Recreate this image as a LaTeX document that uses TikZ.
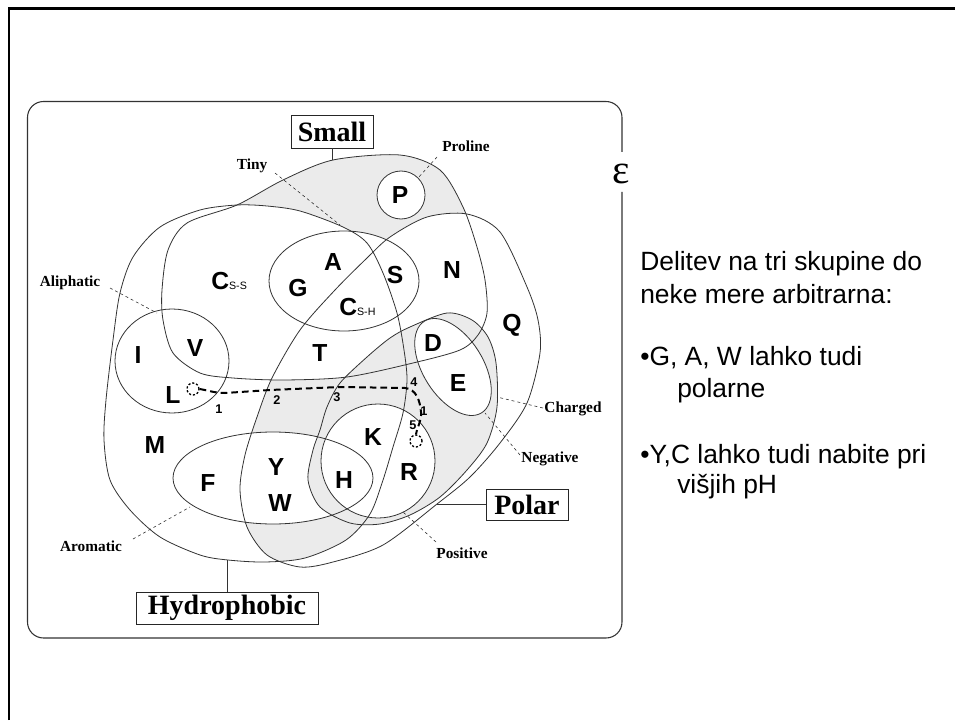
\documentclass[tikz,border=0pt]{standalone}
\usepackage{fontspec}
\setmainfont{Liberation Serif}
\setsansfont{Liberation Sans}
\begin{document}
\begin{tikzpicture}[x=0.75pt,y=-0.75pt,
  outl/.style={draw=black!80, line width=0.6pt},
  aa/.style={font=\sffamily\bfseries\fontsize{18.5}{18.5}\selectfont, inner sep=0pt},
  num/.style={font=\sffamily\bfseries\fontsize{9.5}{9.5}\selectfont, inner sep=0pt},
  lab/.style={font=\rmfamily\bfseries\fontsize{11.5}{11.5}\selectfont, inner sep=0pt},
  bigbox/.style={draw=black!85, line width=0.7pt, font=\rmfamily\bfseries\fontsize{21}{21}\selectfont, inner sep=0pt},
  lead/.style={draw=black!80, dash pattern=on 2.2pt off 2.2pt, line width=0.45pt},
  mut/.style={line width=1.5pt, dash pattern=on 5pt off 3pt},
  dotcirc/.style={circle, draw, line width=1pt, dash pattern=on 1.6pt off 1.4pt, minimum size=9pt, inner sep=0pt},
  shade/.style={fill=black!8},
  txt/.style={font=\sffamily\fontsize{19.8}{19.8}\selectfont, anchor=base west, inner sep=0pt},
  negshape/.style={shift={(453,367)}, rotate=-58},
]
\def\subf{\fontsize{8}{8}\selectfont\mdseries}
\def\pSmall{plot[smooth cycle] coordinates {(237,205) (283,180) (333,160) (400,155) (440,170) (463,207) (477,247) (485,280) (487,313) (478,335) (460,350) (413,363) (347,377) (283,380) (233,378) (200,373) (173,353) (163,320) (162,290) (168,250) (187,223)}}
\def\pHydro{plot[smooth cycle] coordinates {(237,205) (267,206) (300,211) (343,227) (367,243) (383,273) (397,313) (404,350) (407,380) (403,413) (393,447) (383,480) (370,514) (346,540) (305,558) (265,562) (228,560) (200,555) (160,537) (130,510) (110,480) (104,440) (106,400) (113,340) (120,293) (133,257) (160,227) (200,210)}}
\def\pPolar{plot[smooth cycle] coordinates {(245,455) (257,417) (272,378) (300,330) (335,290) (367,258) (390,237) (427,217) (467,214) (500,232) (527,287) (538,320) (540,353) (527,403) (500,443) (470,477) (437,504) (383,545) (333,562) (300,567) (267,555) (247,527) (240,490)}}
\def\pCharged{plot[smooth cycle] coordinates {(308,480) (313,450) (320,430) (327,407) (340,383) (367,357) (390,338) (410,327) (447,313) (472,320) (488,337) (496,363) (497,407) (487,443) (467,470) (440,497) (410,515) (380,524) (350,523) (320,507)}}
\def\pTiny{(344,281) ellipse [x radius=75, y radius=50]}
\def\pAli{(172,361) ellipse [x radius=57, y radius=52]}
\def\pArom{(273,478) ellipse [x radius=100, y radius=46]}
\def\pPos{(378,461) circle [radius=57]}
\def\pPc{(401,195) circle [radius=24]}
\def\pNeg{(0,0) ellipse [x radius=54, y radius=30]}

\useasboundingbox (0,0) rectangle (955,720);
% slide frame
\draw[line width=2.2pt] (9,720) -- (9,8.5) -- (955,8.5);

% shading of empty regions
\begin{scope}
  \clip \pSmall;
  \fill[shade] \pSmall;
  \fill[white] \pHydro;
  \fill[white] \pTiny;
  \fill[white] \pPolar;
  \fill[white] \pPc;
\end{scope}
\begin{scope}
  \clip \pPolar;
  \clip \pHydro;
  \fill[shade] \pPolar;
  \fill[white] \pSmall;
  \fill[white] \pArom;
\end{scope}
\fill[shade] \pCharged;
\fill[white] \pPos;
\fill[white, negshape] \pNeg;

% outlines
\draw[outl] \pSmall;
\draw[outl] \pHydro;
\draw[outl] \pPolar;
\draw[outl] \pCharged;
\draw[outl] \pTiny;
\draw[outl] \pAli;
\draw[outl] \pArom;
\draw[outl] \pPos;
\draw[outl] \pPc;
\draw[outl, negshape] \pNeg;

% rounded frame with gap for epsilon
\draw[draw=black!80, line width=0.8pt, rounded corners=12pt]
  (622,152) -- (622,101.5) -- (27.5,101.5) -- (27.5,638) -- (622,638) -- (622,192);
\node[font=\rmfamily\fontsize{31}{31}\selectfont, inner sep=0pt] (eps) at (621,174) {ε};

% boxes and connectors
\node[bigbox, minimum width=61.5pt, minimum height=24.75pt] (sbox) at (332,131.5) {Small};
\node[bigbox, minimum width=136.5pt, minimum height=24pt] (hbox) at (227,608) {Hydrophobic};
\node[bigbox, minimum width=61.5pt, minimum height=23.25pt] (pbox) at (527,504.5) {Polar};
\coordinate (stop) at (332,160);
\coordinate (htop) at (227,560);
\coordinate (ptop) at (437,504.5);
\draw[outl] (sbox.south) -- (stop);
\draw[outl] (hbox.north) -- (htop);
\draw[outl] (pbox.west) -- (ptop);

% small labels with leaders
\node[lab] (tinyL) at (252,166) {Tiny};
\node[lab] (proL) at (466,146) {Proline};
\node[lab] (aliL) at (70,283) {Aliphatic};
\node[lab] (aroL) at (91,546) {Aromatic};
\node[lab] (chaL) at (573,409) {Charged};
\node[lab] (negL) at (550,459) {Negative};
\node[lab] (posL) at (462,553) {Positive};
\coordinate (tinyA) at (275,173); \coordinate (tinyB) at (340,225);
\coordinate (proA) at (437,157);  \coordinate (proB) at (418,178);
\coordinate (aliA) at (110,288);  \coordinate (aliB) at (157,313);
\coordinate (aroA) at (133,539);  \coordinate (aroB) at (190,507);
\coordinate (chaA) at (543,408);  \coordinate (chaB) at (497,397);
\coordinate (negA) at (520,455);  \coordinate (negB) at (485,413);
\coordinate (posA) at (436,542);  \coordinate (posB) at (403,512);
\draw[lead] (tinyA) -- (tinyB);
\draw[lead] (proA) -- (proB);
\draw[lead] (aliA) -- (aliB);
\draw[lead] (aroA) -- (aroB);
\draw[lead] (chaA) -- (chaB);
\draw[lead] (negA) -- (negB);
\draw[lead] (posA) -- (posB);

% amino acids
\node[aa] (P) at (400,195) {P};
\node[aa] (A) at (333,262) {A};
\node[aa] (G) at (298,288) {G};
\node[aa] (S) at (395,275) {S};
\node[aa] (N) at (452,270) {N};
\node[aa, anchor=base west] (Csh) at (339,315) {C{\subf S-H}};
\node[aa, anchor=base west] (Css) at (211,289) {C{\subf S-S}};
\node[aa] (Q) at (512,325) {Q};
\node[aa] (I) at (138,355) {I};
\node[aa] (V) at (195,348) {V};
\node[aa] (L) at (173,395) {L};
\node[aa] (T) at (320,353) {T};
\node[aa] (D) at (433,343) {D};
\node[aa] (E) at (458,383) {E};
\node[aa] (M) at (155,445) {M};
\node[aa] (F) at (208,483) {F};
\node[aa] (Y) at (276,467) {Y};
\node[aa] (W) at (280,503) {W};
\node[aa] (K) at (373,437) {K};
\node[aa] (H) at (344,480) {H};
\node[aa] (R) at (409,472) {R};

% mutation path
\node[dotcirc] (c1) at (193,389) {};
\node[dotcirc] (c2) at (416,441) {};
\draw[mut] (c1.east) to[out=-10,in=180] (225,393) -- (270,390) -- (340,387) -- (405,388)
  to[out=-5,in=95] (421,412) to[out=-85,in=80] (c2.north);
\node[num] (n1) at (219,409) {1};
\node[num] (n2) at (277,400) {2};
\node[num] (n3) at (337,397) {3};
\node[num] (n4) at (414,382) {4};
\node[num] (n1b) at (424,411) {1};
\node[num] (n5) at (413,425) {5};

% right text
\node[txt] (t1) at (640,270) {Delitev na tri skupine do};
\node[txt] (t2) at (640,303) {neke mere arbitrarna:};
\node[txt] (t3) at (640,365) {•G, A, W lahko tudi};
\node[txt] (t4) at (677,397) {polarne};
\node[txt] (t5) at (640,463) {•Y,C lahko tudi nabite pri};
\node[txt] (t6) at (677,493) {višjih pH};
\end{tikzpicture}
\end{document}
